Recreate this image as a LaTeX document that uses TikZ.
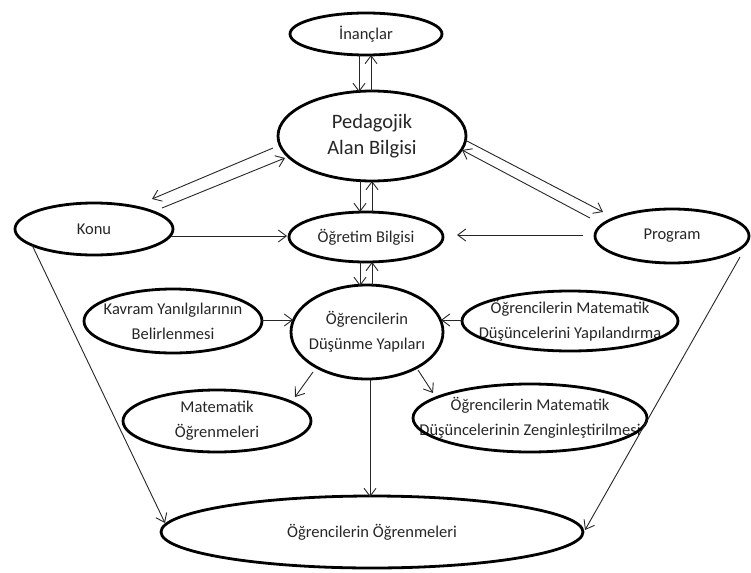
\documentclass[tikz,border=0pt]{standalone}
\usepackage{fontspec}
\setmainfont{Carlito}
\usetikzlibrary{arrows.meta,calc}
\begin{document}
\begin{tikzpicture}[x=1pt,y=-1pt,
  txt/.style={inner sep=0pt,align=center,text=black!85,font=\fontsize{16.5}{25}\selectfont},
  bigtxt/.style={inner sep=0pt,align=center,text=black!85,font=\fontsize{20.5}{26}\selectfont},
  elp/.style={draw=black,line width=2.8pt},
  arr/.style={draw=black!85,line width=0.9pt,-{Straight Barb[length=8pt,width=12pt,line width=0.9pt]}}]
\useasboundingbox (0,0) rectangle (751,572);
% texts
\node[txt] (inan) at (366,34) {İnançlar};
\node[bigtxt] (pab) at (372,136) {Pedagojik\\Alan Bilgisi};
\node[txt] (konu) at (94,229) {Konu};
\node[txt] (ogr) at (366,237) {Öğretim Bilgisi};
\node[txt] (prog) at (672,236) {Program};
\node[txt] (kav) at (173,321) {Kavram Yanılgılarının\\Belirlenmesi};
\node[txt] (ody) at (367,332) {Öğrencilerin\\Düşünme Yapıları};
\node[txt] (yap) at (570,321) {Öğrencilerin Matematik\\Düşüncelerini Yapılandırma};
\node[txt] (mat) at (217,421) {Matematik\\Öğrenmeleri};
\node[txt] (zen) at (530,418) {Öğrencilerin Matematik\\Düşüncelerinin Zenginleştirilmesi};
\node[txt] (og) at (372,532) {Öğrencilerin Öğrenmeleri};
% ellipses
\draw[elp] (inan.center) ellipse [x radius=76pt, y radius=21pt];
\draw[elp] (pab.center) ellipse [x radius=94pt, y radius=45pt];
\draw[elp] (konu.center) ellipse [x radius=79pt, y radius=26pt];
\draw[elp] (ogr.center) ellipse [x radius=77pt, y radius=25pt];
\draw[elp] (prog.center) ellipse [x radius=77pt, y radius=27pt];
\draw[elp] (kav.center) ellipse [x radius=89pt, y radius=32pt];
\draw[elp] (ody.center) ellipse [x radius=76pt, y radius=47pt];
\draw[elp] (yap.center) ellipse [x radius=108pt, y radius=30pt];
\draw[elp] (mat.center) ellipse [x radius=94pt, y radius=31pt];
\draw[elp] (zen.center) ellipse [x radius=117pt, y radius=34pt];
\draw[elp] (og.center) ellipse [x radius=211pt, y radius=36pt];
% vertical pairs
\draw[arr] ($(inan)+(-7,21)$) -- ($(pab)+(-13,-44)$);
\draw[arr] ($(pab)+(-1,-45)$) -- ($(inan)+(5,21)$);
\draw[arr] ($(pab)+(-12,45)$) -- ($(ogr)+(-6,-25)$);
\draw[arr] ($(ogr)+(6,-25)$) -- ($(pab)+(0,45)$);
\draw[arr] ($(ogr)+(-6,25)$) -- ($(ody)+(-7,-46)$);
\draw[arr] ($(ody)+(5,-47)$) -- ($(ogr)+(6,25)$);
% diagonals from PAB
\draw[arr] ($(pab)+(-99,12)$) -- ($(konu)+(58,-30)$);
\draw[arr] ($(konu)+(68,-21)$) -- ($(pab)+(-87,22)$);
\draw[arr] ($(pab)+(93,4)$) -- ($(prog)+(-69,-24)$);
\draw[arr] ($(prog)+(-82,-18)$) -- ($(pab)+(90,14)$);
% horizontals
\draw[arr] ($(konu)+(77,7)$) -- ($(ogr)+(-79,-1)$);
\draw[arr] ($(prog)+(-89,-1)$) -- ($(ogr)+(91,-2)$);
\draw[arr] ($(kav)+(89,-1)$) -- ($(ody)+(-74,-12)$);
\draw[arr] ($(yap)+(-108,-1)$) -- ($(ody)+(74,-12)$);
% from ODY
\draw[arr] ($(ody)+(-54,40)$) -- ($(mat)+(78,-24)$);
\draw[arr] ($(ody)+(51,38)$) -- ($(zen)+(-97,-25)$);
\draw[arr] ($(ody)+(3,48)$) -- ($(og)+(-2,-35)$);
% long sides
\draw[arr] ($(konu)+(-62,16)$) -- ($(og)+(-207,-9)$);
\draw[arr] ($(prog)+(68,21)$) -- ($(og)+(213,-2)$);
\end{tikzpicture}
\end{document}
